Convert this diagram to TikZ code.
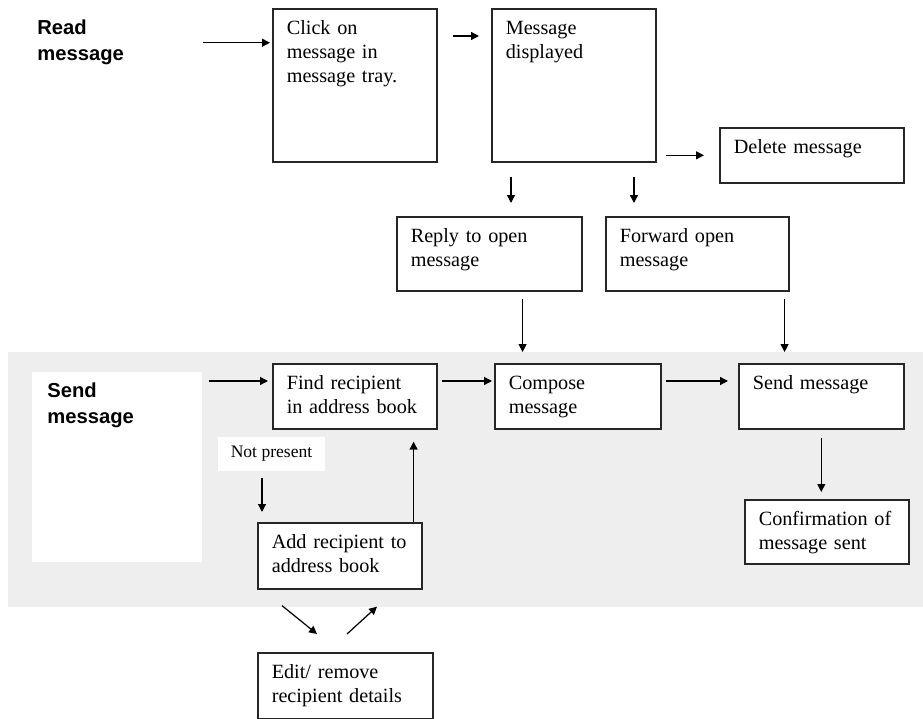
\documentclass[tikz,border=0pt]{standalone}
\usepackage{fontspec}
\setmainfont{Liberation Serif}
\newfontfamily\labelfont{Liberation Sans}
\usepackage{tikz}
\usetikzlibrary{arrows.meta,positioning,calc}

\begin{document}
\begin{tikzpicture}[
  font=\fontsize{11.5}{13.6}\selectfont,
  msgbox/.style={draw=black!85, line width=0.9pt, fill=white, anchor=north west, align=left, inner xsep=0.28cm, inner ysep=0.24cm, text height=8pt},
  grouplbl/.style={font=\labelfont\bfseries\fontsize{11.5}{14.7}\selectfont, align=left, anchor=north west},
  note/.style={fill=white, font=\fontsize{10}{12}\selectfont, minimum width=2.14cm, minimum height=0.68cm, inner sep=0pt},
  arr/.style={-{Triangle[length=4.5pt,width=4.5pt]}, line width=0.7pt}
]
\useasboundingbox (0,0) rectangle (18.46,-14.38);

% send message band
\fill[gray!13] (0.16,-7.04) rectangle (18.46,-12.14);

\node[grouplbl, inner sep=0pt] (readlbl) at (0.74,-0.40) {Read\\message};
\node[grouplbl, fill=white, inner xsep=0.30cm, inner ysep=0.22cm, text width=2.80cm, text height=8.2pt, text depth=3.07cm] (sendlbl) at (0.64,-7.44) {Send\\message};

% read message
\node[msgbox, text width=2.72cm, text depth=2.30cm] (click) at (5.44,-0.16) {Click on\\message in\\message tray.};
\node[msgbox, text width=2.72cm, text depth=2.30cm] (shown) at (9.82,-0.16) {Message\\displayed};
\node[msgbox, text width=3.12cm, text depth=0.34cm] (delete) at (14.38,-2.54) {Delete message};
\node[msgbox, text width=3.14cm, text depth=0.72cm] (reply) at (7.92,-4.32) {Reply to open\\message};
\node[msgbox, text width=3.10cm, text depth=0.72cm] (forward) at (12.10,-4.32) {Forward open\\message};

% send message
\node[msgbox, text width=2.72cm, text depth=0.54cm] (find) at (5.44,-7.26) {Find recipient\\in address book};
\node[msgbox, text width=2.76cm, text depth=0.54cm] (compose) at (9.88,-7.26) {Compose\\message};
\node[msgbox, text width=2.74cm, text depth=0.54cm] (sendmsg) at (14.76,-7.26) {Send message};
\node[msgbox, text width=2.72cm, text depth=0.52cm] (confirm) at (14.88,-9.98) {Confirmation of\\message sent};
\node[note] (notpresent) at (5.43,-9.08) {Not present};
\node[msgbox, text width=2.72cm, text depth=0.56cm] (add) at (5.14,-10.44) {Add recipient to\\address book};
\node[msgbox, text width=2.94cm, text depth=0.56cm] (edit) at (5.14,-13.04) {Edit/ remove\\recipient details};

\draw[arr, shorten <=1.58cm, shorten >=0.04cm] (readlbl.east) -- (readlbl.east -| click.west);
\draw[arr, shorten <=0.30cm, shorten >=0.24cm] ([yshift=-0.56cm]click.north east) -- ([yshift=-0.56cm]shown.north west);
\draw[arr, shorten <=0.18cm, shorten >=0.30cm] (shown.east |- delete.west) -- (delete.west);
\draw[arr, shorten <=0.28cm, shorten >=0.26cm] ([xshift=0.40cm]shown.south west) -- ([xshift=0.40cm]shown.south west |- reply.north);
\draw[arr, shorten <=0.28cm, shorten >=0.26cm] ([xshift=2.86cm]shown.south west) -- ([xshift=2.86cm]shown.south west |- forward.north);
\draw[arr, shorten <=0.14cm, shorten >=0.22cm] ([xshift=-1.20cm]reply.south east) -- ([xshift=-1.20cm]reply.south east |- compose.north);
\draw[arr, shorten <=0.14cm, shorten >=0.22cm] ([xshift=-0.10cm]forward.south east) -- ([xshift=-0.10cm]forward.south east |- sendmsg.north);

\draw[arr, shorten <=0.12cm, shorten >=0.08cm] ([yshift=-0.18cm]sendlbl.north east) -- ([yshift=-0.18cm]sendlbl.north east -| find.west);
\draw[arr, shorten <=0.08cm, shorten >=0.04cm] ([yshift=-0.36cm]find.north east) -- ([yshift=-0.36cm]compose.north west);
\draw[arr, shorten <=0.08cm, shorten >=0.20cm] ([yshift=-0.36cm]compose.north east) -- ([yshift=-0.36cm]sendmsg.north west);
\draw[arr, shorten <=0.16cm, shorten >=0.14cm] (sendmsg.south) -- (sendmsg.south |- confirm.north);
\draw[arr, shorten <=0.14cm, shorten >=0.20cm] ([xshift=-0.19cm]notpresent.south) -- ([xshift=-0.19cm]notpresent.south |- add.north);
\draw[arr, shorten >=0.24cm] ([xshift=-0.18cm]add.north east) -- ([xshift=-0.18cm]add.north east |- find.south);
\draw[arr] ([shift={(0.50,-0.32)}]add.south west) -- ([shift={(1.20,0.36)}]edit.north west);
\draw[arr] ([shift={(1.80,0.36)}]edit.north west) -- ([shift={(2.40,-0.34)}]add.south west);
\end{tikzpicture}
\end{document}
